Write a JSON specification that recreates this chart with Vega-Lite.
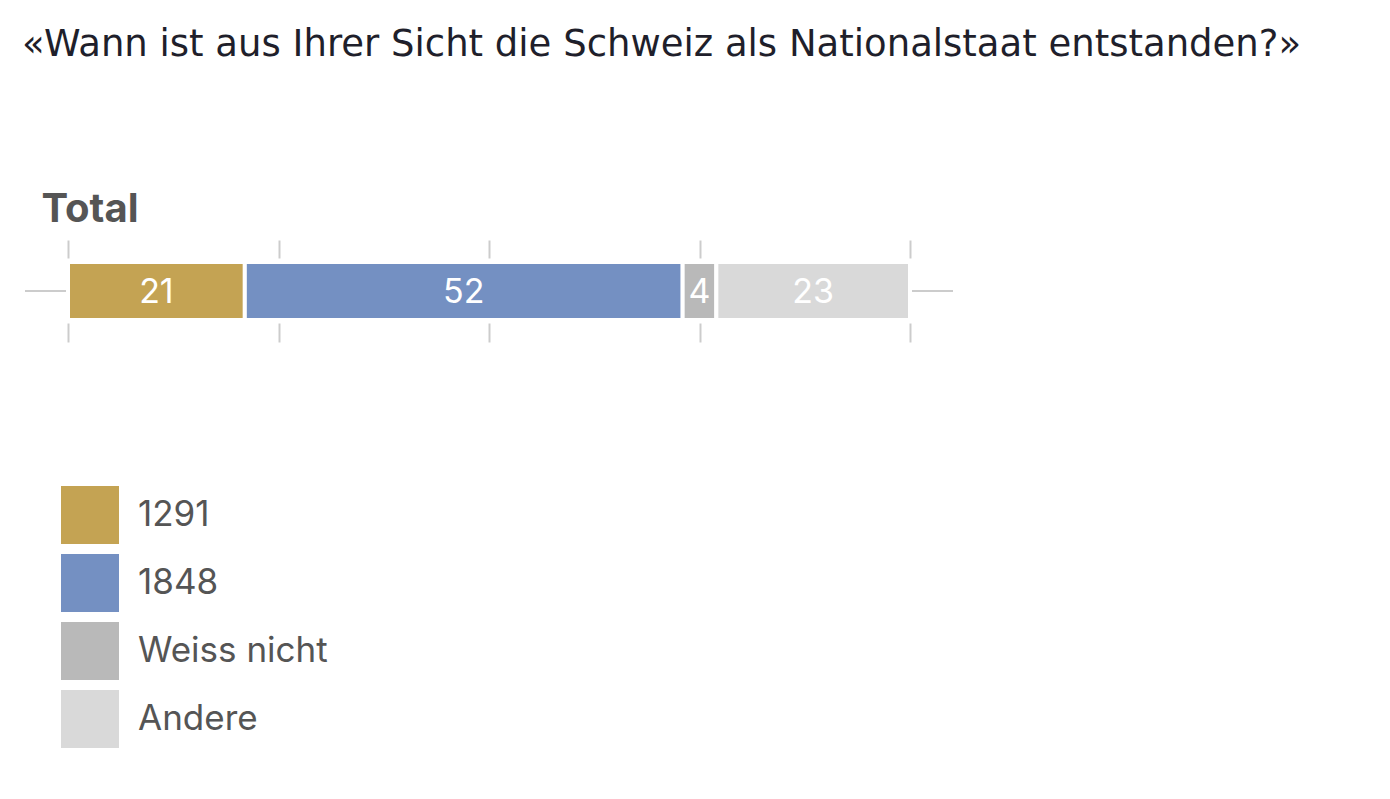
{
  "$schema": "https://vega.github.io/schema/vega-lite/v6.json",
  "autosize": "none",
  "padding": {"left": 68, "top": 262, "right": 480, "bottom": 479},
  "width": 842,
  "height": 58,
  "background": "white",
  "title": {
    "text": "«Wann ist aus Ihrer Sicht die Schweiz als Nationalstaat entstanden?»",
    "anchor": "start",
    "frame": "group",
    "dx": -46,
    "offset": 125,
    "font": "DejaVu Sans",
    "fontSize": 37,
    "fontWeight": "normal",
    "color": "#1f1f2b"
  },
  "config": {
    "view": {"stroke": null},
    "font": "Inter"
  },
  "data": {
    "values": [
      {"group": "Total", "answer": "1291", "rank": 1, "share": 21},
      {"group": "Total", "answer": "1848", "rank": 2, "share": 52},
      {"group": "Total", "answer": "Weiss nicht", "rank": 3, "share": 4},
      {"group": "Total", "answer": "Andere", "rank": 4, "share": 23}
    ]
  },
  "transform": [
    {"stack": "share", "groupby": ["group"], "sort": [{"field": "rank"}], "as": ["x0", "x1"]},
    {"calculate": "(datum.x0 + datum.x1) / 2", "as": "mid"}
  ],
  "layer": [
    {
      "mark": {"type": "rule", "color": "#cccccc", "strokeWidth": 2},
      "encoding": {
        "x": {"datum": -5.1, "type": "quantitative", "scale": {"domain": [0, 100]},
          "axis": {"orient": "top", "values": [0, 25, 50, 75, 100], "labels": false, "domain": false, "grid": false,
            "ticks": true, "tickColor": "#cccccc", "tickWidth": 2, "tickSize": 18, "offset": 4, "title": null}},
        "x2": {"datum": 105.1},
        "y": {"field": "group", "type": "nominal",
          "scale": {"paddingInner": 0, "paddingOuter": 0},
          "axis": {"title": "Total", "ticks": false, "domain": false, "labels": false,
            "titleAngle": 0, "titleAlign": "left", "titleBaseline": "alphabetic", "titleX": -27, "titleY": -41,
            "titleFont": "Inter", "titleFontSize": 40, "titleFontWeight": "bold", "titleColor": "#555555"}}
      }
    },
    {
      "mark": {"type": "bar", "stroke": "white", "strokeWidth": 4},
      "encoding": {
        "x": {"field": "x0", "type": "quantitative",
          "axis": {"orient": "bottom", "values": [0, 25, 50, 75, 100], "labels": false, "domain": false, "grid": false,
            "ticks": true, "tickColor": "#cccccc", "tickWidth": 2, "tickSize": 19, "offset": 3, "title": null}},
        "x2": {"field": "x1"},
        "y": {"field": "group", "type": "nominal"},
        "color": {"field": "answer", "type": "nominal",
          "scale": {"domain": ["1291", "1848", "Weiss nicht", "Andere"],
            "range": ["#c4a353", "#7490c2", "#b9b9b9", "#d9d9d9"]},
          "legend": {"title": null, "orient": "none", "legendX": -7, "legendY": 224, "symbolType": "square",
            "symbolSize": 3364, "symbolStrokeWidth": 0, "symbolOpacity": 1, "rowPadding": 10, "labelOffset": 19,
            "labelFont": "Inter", "labelFontSize": 35, "labelLimit": 0, "labelColor": "#555555", "padding": 0}}
      }
    },
    {
      "mark": {"type": "text", "color": "white", "fontSize": 34, "font": "Inter", "baseline": "middle", "align": "center", "dy": 2},
      "encoding": {
        "x": {"field": "mid", "type": "quantitative", "axis": null},
        "y": {"field": "group", "type": "nominal"},
        "text": {"field": "share", "type": "quantitative"}
      }
    }
  ],
  "resolve": {"axis": {"x": "independent"}}
}
